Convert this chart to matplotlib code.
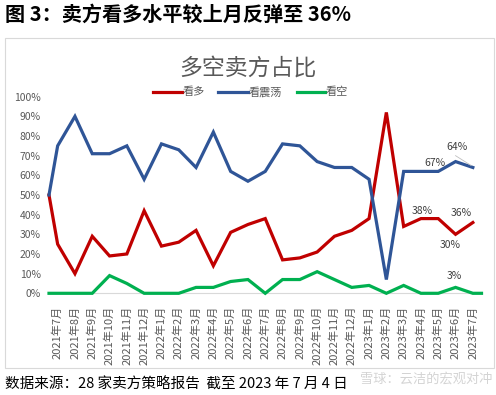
import matplotlib
matplotlib.use("Agg")
import matplotlib.pyplot as plt
from matplotlib.patches import Rectangle
from matplotlib.lines import Line2D

plt.rcParams['font.family'] = ['Noto Sans CJK SC', 'DejaVu Sans']

months = ["2021年7月", "2021年8月", "2021年9月", "2021年10月", "2021年11月", "2021年12月",
          "2022年1月", "2022年2月", "2022年3月", "2022年4月", "2022年5月", "2022年6月",
          "2022年7月", "2022年8月", "2022年9月", "2022年10月", "2022年11月", "2022年12月",
          "2023年1月", "2023年2月", "2023年3月", "2023年4月", "2023年5月", "2023年6月", "2023年7月"]
bull = [25, 10, 29, 19, 20, 42, 24, 26, 32, 14, 31, 35,
        38, 17, 18, 21, 29, 32, 38, 92, 34, 38, 38, 30, 36]
range_ = [75, 90, 71, 71, 75, 58, 76, 73, 64, 82, 62, 57,
          62, 76, 75, 67, 64, 64, 58, 7, 62, 62, 62, 67, 64]
bear = [0, 0, 0, 9, 5, 0, 0, 0, 3, 3, 6, 7,
        0, 7, 7, 11, 7, 3, 4, 0, 4, 0, 0, 3, 0]
# values where the lines enter the left edge of the plot
lead_in = {"看多": 50, "看震荡": 50, "看空": 0}

W, H = 496, 395
fig = plt.figure(figsize=(W / 100, H / 100), dpi=100)
fig.patch.set_facecolor("white")

def fx(px):
    return px / W

def fy(py):
    return 1 - py / H

# outer chart frame
fig.patches.append(Rectangle((fx(5), fy(368)), fx(489), (368 - 38) / H,
                             transform=fig.transFigure, fill=False,
                             edgecolor="#d9d9d9", linewidth=0.8))

ax = fig.add_axes([fx(49), fy(293.3), fx(481.5 - 49), (293.3 - 96.7) / H])
n = len(months)
xs = list(range(n))
series = [("看多", bull, "#C00000"), ("看震荡", range_, "#2F5597"), ("看空", bear, "#00B050")]
for name, vals, col in series:
    xx = [-0.5] + xs
    yy = [lead_in[name] / 100] + [v / 100 for v in vals]
    if name == "看空":
        xx = xx + [n - 0.5]
        yy = yy + [vals[-1] / 100]
    ax.plot(xx, yy, color=col, linewidth=2.3, solid_joinstyle="miter", clip_on=False)

ax.set_xlim(-0.5, n - 0.5)
ax.set_ylim(0, 1)
for s in ["top", "right", "left"]:
    ax.spines[s].set_visible(False)
ax.spines["bottom"].set_color("#d9d9d9")
ax.spines["bottom"].set_linewidth(0.8)
ax.spines["bottom"].set_zorder(0)
ax.set_yticks([i / 10 for i in range(11)])
ax.set_yticklabels([f"{i * 10}%" for i in range(11)], fontsize=7.5, color="#595959")
ax.set_xticks(xs)
ax.set_xticklabels(months, rotation=90, fontsize=8, color="#595959", va="top", ha="center")
ax.tick_params(axis="both", length=0)
ax.tick_params(axis="x", pad=9)
ax.tick_params(axis="y", pad=6)
ax.patch.set_alpha(0)

# data labels
lab_kw = dict(fontsize=7.5, color="#404040", ha="center", va="center")
ax.text(21.8, 0.665, "67%", **lab_kw)
ax.text(23.1, 0.745, "64%", **lab_kw)
ax.text(21.1, 0.42, "38%", **lab_kw)
ax.text(23.3, 0.41, "36%", **lab_kw)
ax.text(22.7, 0.245, "30%", **lab_kw)
ax.text(22.9, 0.09, "3%", **lab_kw)
ax.plot([23.0, 23.9], [0.70, 0.65], color="#bfbfbf", linewidth=0.6, clip_on=False)

# chart title
fig.text(fx(248), fy(68), "多空卖方占比", fontsize=16.5, color="#595959", ha="center", va="center")

# legend
ly = fy(92)
leg = [(153, 182, "看多", "#C00000"), (218, 248, "看震荡", "#2F5597"), (297, 325, "看空", "#00B050")]
for x0, x1, t, c in leg:
    fig.lines.append(Line2D([fx(x0), fx(x1)], [ly, ly], transform=fig.transFigure,
                            color=c, linewidth=2.3))
    fig.text(fx(x1 + 1), ly, t, fontsize=8, color="#595959", ha="left", va="center")

# header and footer
fig.text(fx(5), fy(14), "图 3：卖方看多水平较上月反弹至 36%", fontsize=14.5, fontweight="bold",
         color="black", ha="left", va="center")
fig.text(fx(5), fy(385), "数据来源：28 家卖方策略报告  截至 2023 年 7 月 4 日", fontsize=10.5,
         color="black", ha="left", va="center")
fig.text(fx(360), fy(379), "雪球：云洁的宏观对冲", fontsize=9.5, color="#cfcfcf",
         ha="left", va="center", alpha=0.9)

fig.savefig("out.png", dpi=100, facecolor="white")
